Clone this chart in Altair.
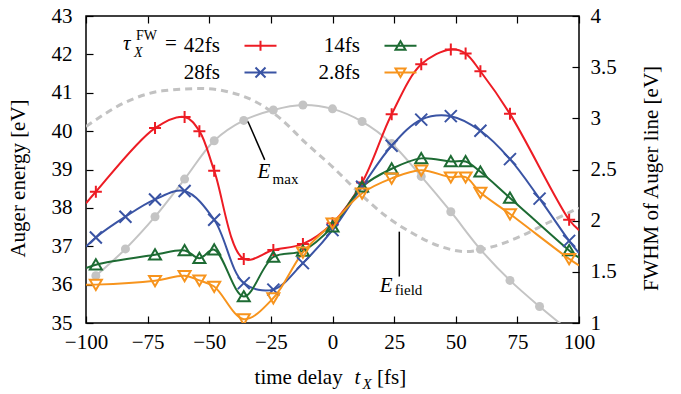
import altair as alt
import pandas as pd

FONT = "Liberation Serif"
W, H = 493, 307

# ---------------- data ----------------
series_names = ["42fs", "28fs", "14fs", "2.8fs"]
series_colors = ["#ed1c24", "#3a54a4", "#1d6b33", "#f7941d"]
marker_paths = ["M-1,0H1M0,-1V1", "M-1,-1L1,1M-1,1L1,-1",
                "M0,-0.9L1,0.8L-1,0.8Z", "M0,0.9L1,-0.8L-1,-0.8Z"]
legend_paths = ["M-3.2,0H3.2M0,-1V1", "M-3.2,0H3.2M-1,-1L1,1M-1,1L1,-1",
                "M-3.2,0H3.2M0,-0.9L1,0.8L-1,0.8Z", "M-3.2,0H3.2M0,0.9L1,-0.8L-1,-0.8Z"]

t_a = [-96, -72, -60, -54, -48, -36, -24, -12, 0, 12, 24, 36, 48, 54, 60, 72, 96]
t_b = [-96, -84, -72, -60, -48, -36, -24, -12, 0, 12, 24, 36, 48, 60, 72, 84, 96]

red_E = [38.42, 40.08, 40.37, 40.0, 38.97, 36.67, 36.9, 37.06, 37.6, 38.66,
         40.44, 41.74, 42.13, 42.02, 41.56, 40.45, 37.69]
blue_E = [37.23, 37.77, 38.22, 38.44, 37.69, 36.04, 35.87, 36.56, 37.42, 38.55,
          39.62, 40.3, 40.39, 40.01, 39.27, 38.24, 37.14]
green_E = [36.52, 36.78, 36.89, 36.69, 36.91, 35.69, 36.72, 36.88, 37.51, 38.55,
           39.02, 39.29, 39.21, 39.21, 38.94, 38.26, 36.89]
orange_E = [36.0, 36.1, 36.23, 36.11, 35.95, 35.1, 35.65, 36.84, 37.6, 38.38,
            38.77, 38.98, 38.8, 38.8, 38.4, 37.84, 36.67]

edge_t = [-100, 100]
red_edge = [38.12, 37.42]
blue_edge = [36.99, 36.82]
green_edge = [36.43, 36.7]
orange_edge = [36.0, 36.5]

gray_E = [36.23, 36.93, 37.77, 38.75, 39.75, 40.28, 40.55, 40.68, 40.58, 40.25,
          39.68, 38.82, 37.9, 36.92, 36.11, 35.43, 34.8]

field_t = [-100, -82, -69, -53, -42, -31, -21, -11, 0, 11, 22, 33, 44, 54, 65, 76, 87, 100]
field_E = [40.12, 40.81, 41.05, 41.11, 41.02, 40.76, 40.32, 39.7, 39.07, 38.38,
           37.77, 37.32, 36.99, 36.86, 36.99, 37.25, 37.6, 38.0]

x_ticks = [-100, -75, -50, -25, 0, 25, 50, 75, 100]
left_ticks = [35, 36, 37, 38, 39, 40, 41, 42, 43]
right_ticks = [1, 1.5, 2, 2.5, 3, 3.5, 4]

# ---------------- tables ----------------
series_data = [("42fs", t_a, red_E, red_edge), ("28fs", t_b, blue_E, blue_edge),
               ("14fs", t_a, green_E, green_edge), ("2.8fs", t_a, orange_E, orange_edge)]
mrows, lrows = [], []
for name, ts, es, edge in series_data:
    for t, e in zip(ts, es):
        mrows.append({"t": t, "E": e, "series": name})
        lrows.append({"t": t, "E": e, "series": name})
    for t, e in zip(edge_t, edge):
        lrows.append({"t": t, "E": e, "series": name})
markers_df = pd.DataFrame(mrows)
lines_df = pd.DataFrame(lrows)
gray_df = pd.DataFrame({"t": t_b, "E": gray_E})
field_df = pd.DataFrame({"t": field_t, "E": field_E})
right_df = pd.DataFrame({"w": right_ticks})
one = pd.DataFrame({"k": [0]})


def xs():
    return alt.Scale(domain=[-100, 100], nice=False, zero=False)


def ys():
    return alt.Scale(domain=[35, 43], nice=False, zero=False)


def rs():
    return alt.Scale(domain=[1, 4], nice=False, zero=False)


def X():
    return alt.X("t:Q", scale=xs(), axis=None)


def Y():
    return alt.Y("E:Q", scale=ys(), axis=None)


lab = dict(labelFont=FONT, labelFontSize=21, labelColor="black")
tit = dict(titleFont=FONT, titleFontSize=21, titleFontWeight="normal", titleColor="black")
tk = dict(labels=False, domain=False, grid=False, title=None, ticks=True,
          tickSize=7, tickWidth=1.2, tickColor="black")

# ---------------- layers ----------------
field_line = alt.Chart(field_df).mark_line(
    color="#c2c2c2", strokeWidth=3, strokeDash=[7, 5], interpolate="monotone", clip=True
).encode(x=X(), y=Y())

gray_line = alt.Chart(gray_df).mark_line(
    color="#c4c4c4", strokeWidth=2, interpolate="catmull-rom", clip=True
).encode(x=X(), y=Y())
gray_pts = alt.Chart(gray_df).mark_circle(
    color="#c4c4c4", size=81, opacity=1, clip=True
).encode(x=X(), y=Y())

lines = alt.Chart(lines_df).mark_line(
    strokeWidth=2, interpolate="catmull-rom", clip=True
).encode(
    x=alt.X("t:Q", scale=xs(), axis=alt.Axis(
        orient="bottom", values=x_ticks, ticks=False, domain=False, grid=False,
        title=None, labelPadding=8, labelFlush=False, labelOverlap=False, **lab)),
    y=alt.Y("E:Q", scale=ys(), axis=alt.Axis(
        orient="left", values=left_ticks, ticks=False, domain=False, grid=False,
        title="Auger energy [eV]", labelPadding=14, labelOverlap=False,
        titleAngle=270, titleX=-68, titleY=162, titleAlign="center",
        titleBaseline="middle", **lab, **tit)),
    color=alt.Color("series:N", scale=alt.Scale(domain=series_names, range=series_colors), legend=None),
)

markers = alt.Chart(markers_df).mark_point(
    filled=False, strokeWidth=2, size=144, opacity=1, clip=True
).encode(
    x=X(), y=Y(),
    color=alt.Color("series:N", scale=alt.Scale(domain=series_names, range=series_colors), legend=None),
    shape=alt.Shape("series:N", scale=alt.Scale(domain=series_names, range=marker_paths), legend=None),
)

leg_props = dict(title=None, orient="none", legendX=164, legendY=19, columns=2,
                 labelAlign="right", labelOffset={"expr": "-51"}, labelFont=FONT, labelFontSize=21,
                 labelColor="black", rowPadding=5, columnPadding=37, symbolStrokeWidth=2)
legend_layer = alt.Chart(markers_df).mark_point(
    opacity=0, filled=False, strokeWidth=2, size=144
).encode(
    x=X(), y=Y(),
    color=alt.Color("series:N", scale=alt.Scale(domain=series_names, range=series_colors),
                    legend=alt.Legend(**leg_props)),
    shape=alt.Shape("series:N", scale=alt.Scale(domain=series_names, range=legend_paths),
                    legend=alt.Legend(**leg_props)),
)

ticks_a = alt.Chart(gray_df).mark_line(opacity=0).encode(
    x=alt.X("t:Q", scale=xs(), axis=alt.Axis(orient="top", offset=-H, values=x_ticks, **tk)),
    y=alt.Y("E:Q", scale=ys(), axis=alt.Axis(orient="right", offset=-W, values=left_ticks, **tk)),
)
ticks_b = alt.Chart(gray_df).mark_line(opacity=0).encode(
    x=alt.X("t:Q", scale=xs(), axis=alt.Axis(orient="bottom", offset=-H, values=x_ticks, **tk)),
    y=Y(),
)

right_axis = alt.Chart(right_df).mark_point(opacity=0).encode(
    y=alt.Y("w:Q", scale=rs(), axis=alt.Axis(
        orient="right", values=right_ticks, format=".1~f", ticks=False, domain=False,
        grid=False, labelPadding=11, labelOverlap=False, title="FWHM of Auger line [eV]",
        titleAngle=270, titleX=72, titleY=162, titleAlign="center", titleBaseline="middle",
        **lab, **tit)),
)
right_ticks_layer = alt.Chart(right_df).mark_point(opacity=0).encode(
    y=alt.Y("w:Q", scale=rs(), axis=alt.Axis(orient="left", offset=-W, values=right_ticks, **tk)),
)


def drule(x1, y1, x2, y2):
    return alt.Chart(one).mark_rule(color="black", strokeWidth=1.5).encode(
        x=alt.XDatum(x1, scale=xs(), axis=None), y=alt.YDatum(y1, scale=ys(), axis=None),
        x2=alt.X2Datum(x2), y2=alt.Y2Datum(y2))


def dtext(txt, x, y, size, italic):
    return alt.Chart(one).mark_text(
        text=txt, font=FONT, fontSize=size, fontStyle="italic" if italic else "normal",
        align="left", baseline="alphabetic", color="black"
    ).encode(x=alt.XDatum(x, scale=xs(), axis=None), y=alt.YDatum(y, scale=ys(), axis=None))


def ptext(txt, px, py, size, italic):
    return alt.Chart(one).mark_text(
        text=txt, font=FONT, fontSize=size, fontStyle="italic" if italic else "normal",
        align="left", baseline="alphabetic", color="black"
    ).encode(x=alt.value(px), y=alt.value(py))


annotations = [
    drule(-34.3, 40.25, -27.5, 39.25),
    dtext("E", -30.4, 38.78, 21, True),
    dtext("max", -24.3, 38.62, 15, False),
    drule(27.1, 37.38, 27.1, 36.21),
    dtext("E", 19.2, 35.82, 21, True),
    dtext("field", 25.3, 35.72, 15, False),
    ptext("time delay", 168.6, 368, 21, False),
    ptext("t", 268.6, 368, 21, True),
    ptext("X", 276.5, 373, 15, True),
    ptext("[fs]", 291, 368, 21, False),
    ptext("τ", 37, 34, 21, True),
    ptext("X", 48, 41, 14, True),
    ptext("FW", 50, 24, 14, False),
    ptext("=", 79, 34, 21, False),
]

chart = alt.layer(
    field_line, gray_line, gray_pts, lines, markers, legend_layer,
    ticks_a, ticks_b, right_axis, right_ticks_layer, *annotations
).resolve_scale(
    y="independent", color="independent", shape="independent"
).resolve_axis(
    x="independent", y="independent"
).properties(
    width=W, height=H, autosize=alt.AutoSizeParams(type="none"),
    padding={"left": 86, "top": 16, "right": 102, "bottom": 71},
    background="white",
).configure_view(stroke="black", strokeWidth=1.5)

chart.save("out.html", embed_options={"renderer": "svg", "actions": False})
